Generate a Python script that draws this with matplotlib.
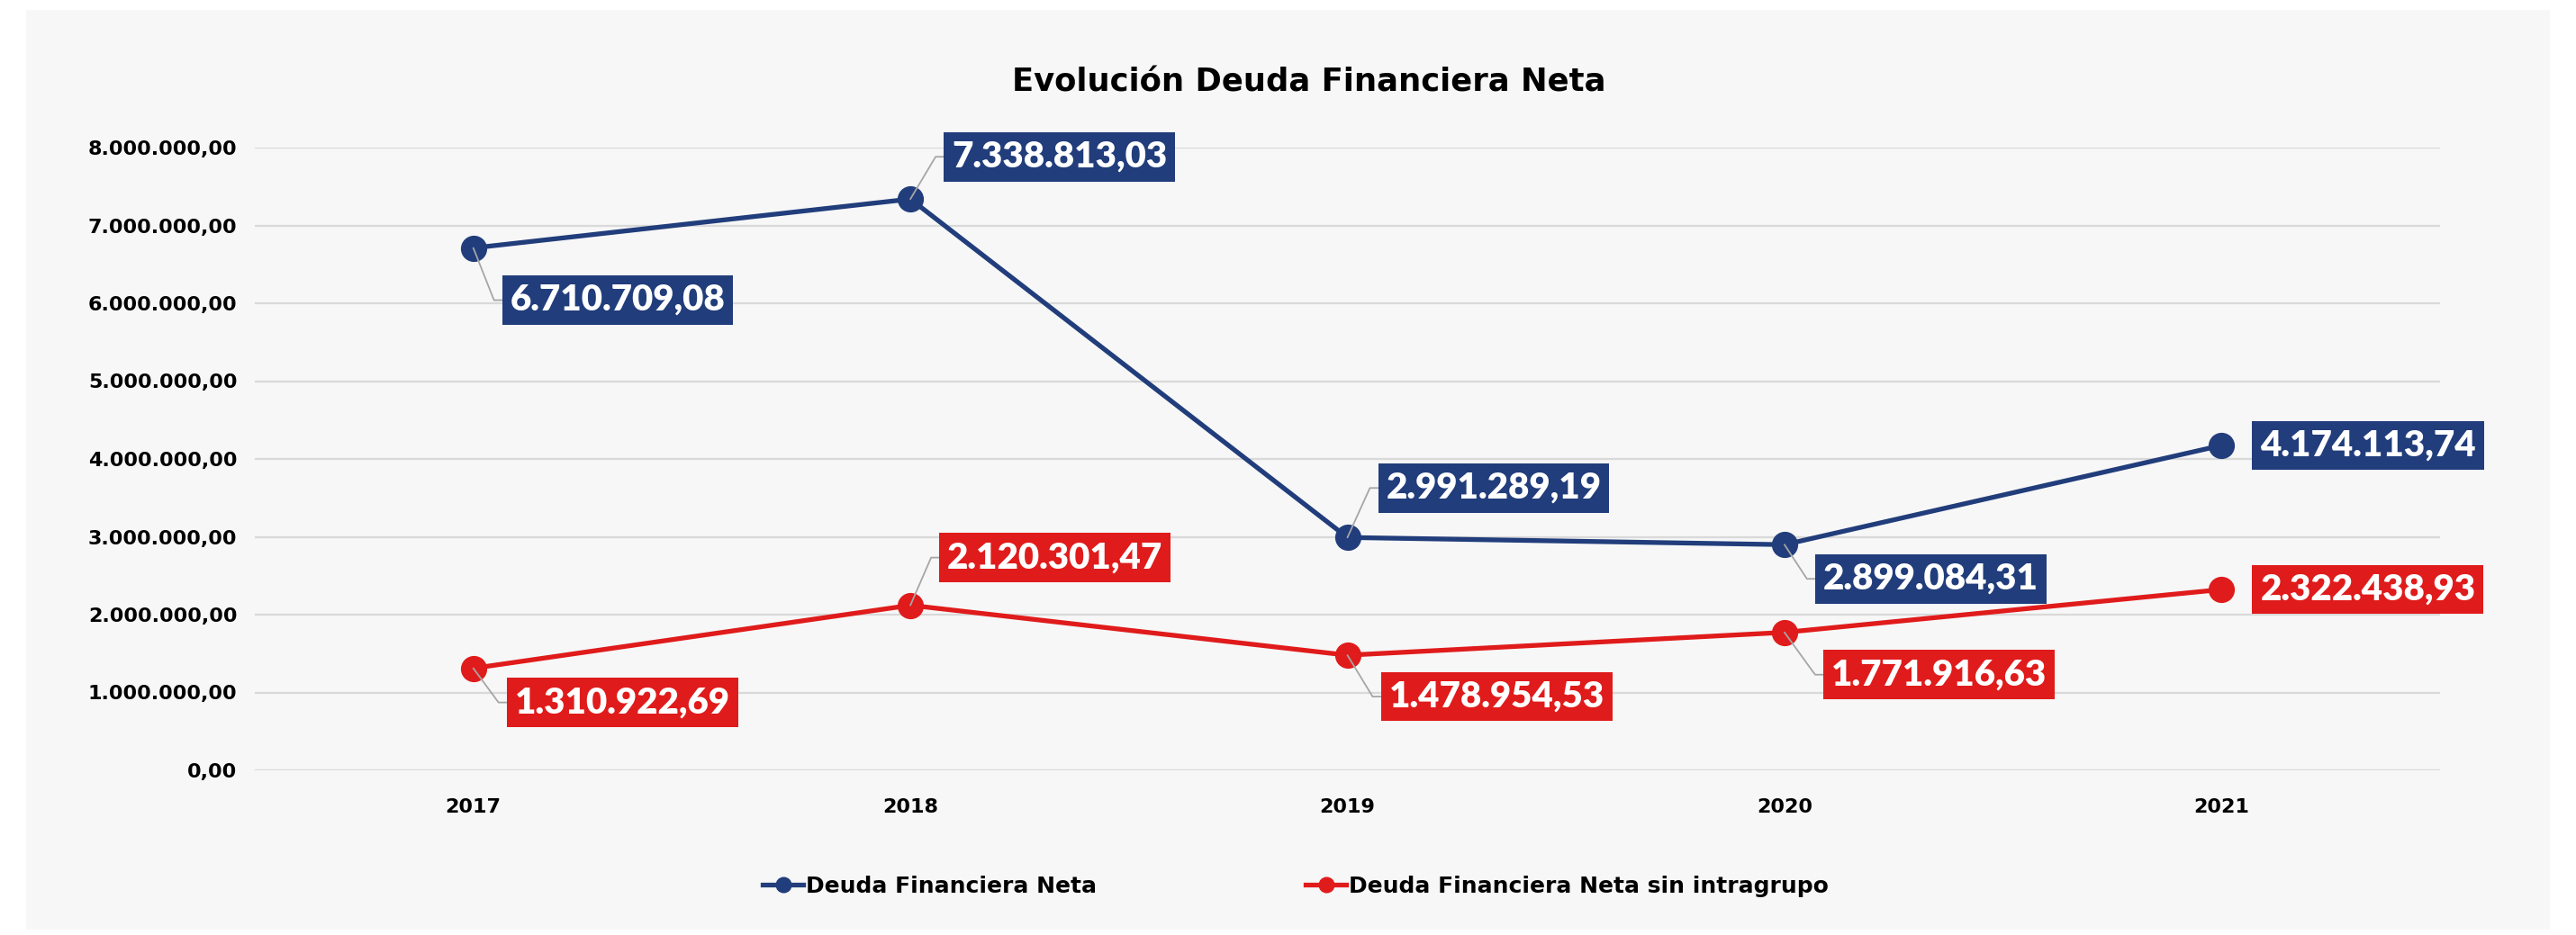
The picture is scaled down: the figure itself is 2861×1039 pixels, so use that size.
import math
import matplotlib
matplotlib.use("Agg")
import matplotlib.pyplot as plt
from matplotlib.patches import Rectangle
from matplotlib.ticker import FuncFormatter

# data
years = ["2017", "2018", "2019", "2020", "2021"]
deuda_neta = [6710709.08, 7338813.03, 2991289.19, 2899084.31, 4174113.74]
deuda_sin_intra = [1310922.69, 2120301.47, 1478954.53, 1771916.63, 2322438.93]
series_names = ["Deuda Financiera Neta", "Deuda Financiera Neta sin intragrupo"]

BLUE = "#213D7B"
RED = "#E01B1B"
BG = "#F7F7F7"

# label offsets (pixels) from point to left-middle of label box
blue_off = [(31, -58), (36, 47), (33, 55), (33, -38), (33, 0)]
red_off = [(36, -38), (31, 53), (36, -46), (42, -47), (33, 0)]


def fmt(v, pos=None):
    s = "{:,.2f}".format(v)
    return s.replace(",", "X").replace(".", ",").replace("X", ".")


fig = plt.figure(figsize=(28.61, 10.39), dpi=100)
fig.patch.set_facecolor("white")
fig.patches.append(Rectangle((29 / 2861, 1 - 1033 / 1039), (2832 - 29) / 2861, (1033 - 11) / 1039,
                             transform=fig.transFigure, facecolor=BG, edgecolor="none", zorder=-10))

ax = fig.add_axes([283 / 2861, 1 - 856 / 1039, (2710 - 283) / 2861, (856 - 164) / 1039])
ax.set_facecolor("none")

x = list(range(len(years)))
ax.plot(x, deuda_neta, "-o", color=BLUE, lw=3.8, ms=20, label=series_names[0], zorder=3)
ax.plot(x, deuda_sin_intra, "-o", color=RED, lw=3.8, ms=20, label=series_names[1], zorder=3)

ax.set_xlim(-0.5, len(years) - 0.5)
ax.set_ylim(0, 8000000)
ax.set_yticks([i * 1000000 for i in range(9)])
ax.yaxis.set_major_formatter(FuncFormatter(fmt))
ax.set_xticks(x)
ax.set_xticklabels(years)
ax.grid(axis="y", color="#D9D9D9", lw=1.6, zorder=0)
ax.set_axisbelow(True)
for s in ax.spines.values():
    s.set_visible(False)
ax.tick_params(axis="both", length=0, labelsize=16)
ax.tick_params(axis="x", pad=22)
ax.tick_params(axis="y", pad=14)
for lab in ax.get_xticklabels() + ax.get_yticklabels():
    lab.set_fontweight("bold")

fig.text(0.508, 1 - 91 / 1039, "Evolución Deuda Financiera Neta", ha="center", va="center",
         fontsize=25.5, fontweight="bold")


def add_labels(vals, offs, color):
    for xi, (v, (dx, dy)) in enumerate(zip(vals, offs)):
        arrow = None
        if dy != 0:
            h = 8
            ang = math.degrees(math.atan2(dy, dx - h))
            arrow = dict(arrowstyle="-", color="#A6A6A6", lw=1.3, shrinkA=0, shrinkB=0,
                         relpos=(0, 0.5),
                         connectionstyle="angle,angleA=0,angleB={:.1f},rad=0".format(ang))
        ax.annotate(fmt(v), xy=(xi, v), xytext=(dx + 10, dy), textcoords="offset pixels",
                    ha="left", va="center", color="white", fontsize=29, fontweight="heavy",
                    family="Lato",
                    bbox=dict(boxstyle="square,pad=0.22", fc=color, ec="none"),
                    arrowprops=arrow, zorder=5, annotation_clip=False)


add_labels(deuda_neta, blue_off, BLUE)
add_labels(deuda_sin_intra, red_off, RED)

fig.legend(loc="center", bbox_to_anchor=(0.503, 1 - 985 / 1039), ncol=2, frameon=False,
           prop={"weight": "bold", "size": 18}, handlelength=1.8, handletextpad=0.1,
           columnspacing=9.3, markerscale=0.6)

fig.savefig("out.png", dpi=100, facecolor=fig.get_facecolor())
